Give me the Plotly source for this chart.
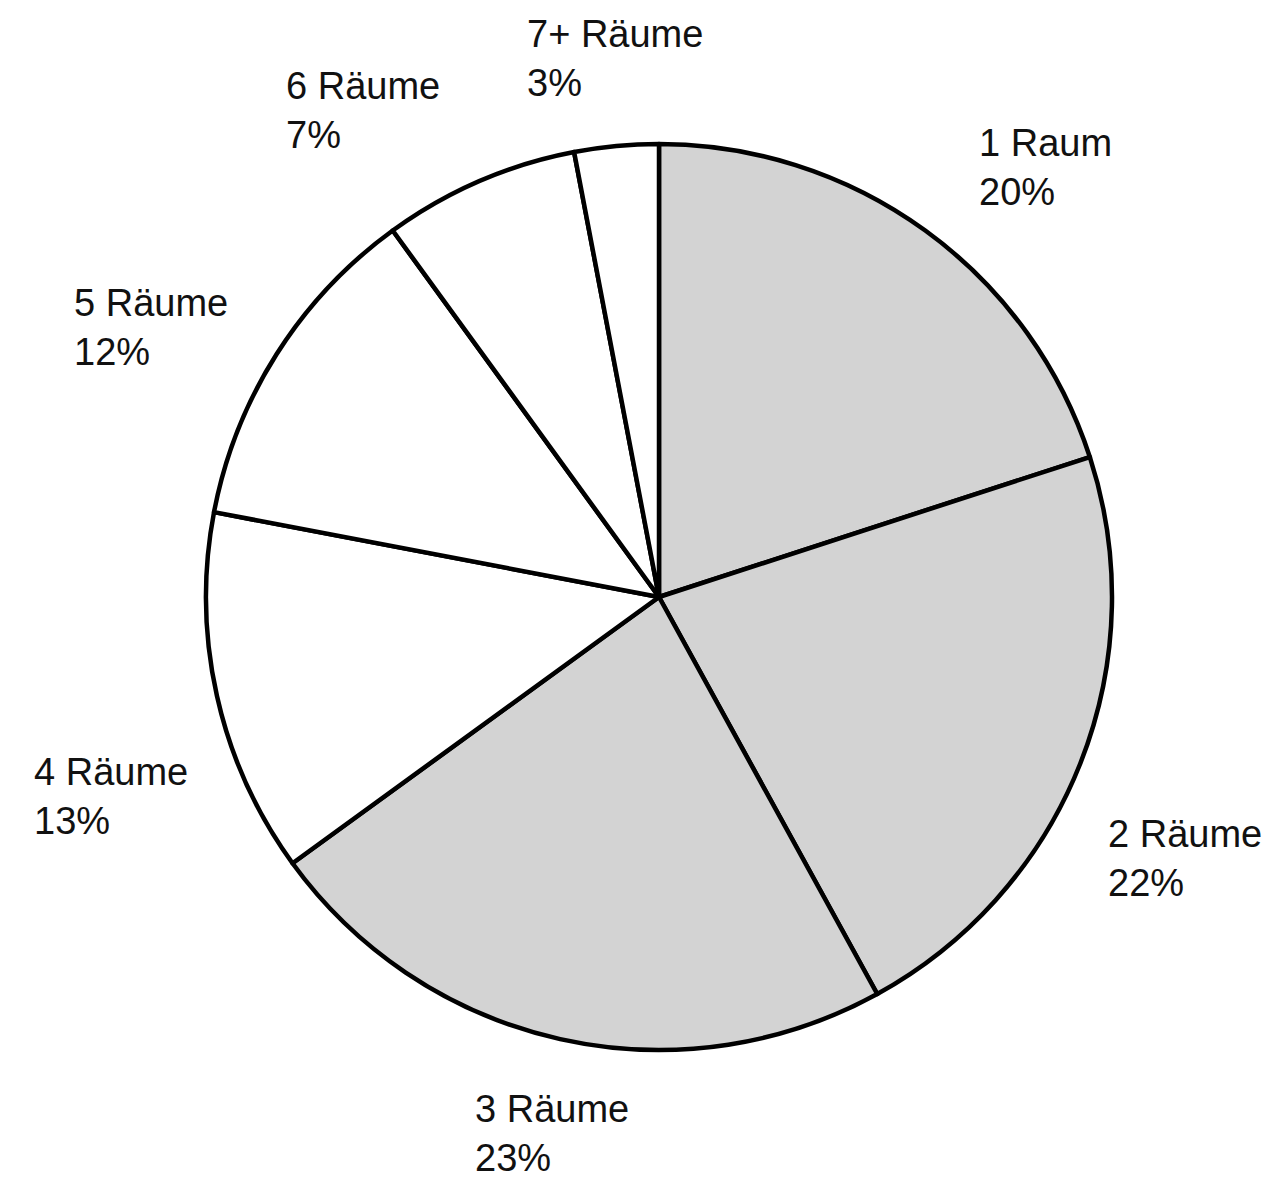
import math
import plotly.graph_objects as go

labels = ["1 Raum", "2 Räume", "3 Räume", "4 Räume", "5 Räume", "6 Räume", "7+ Räume"]
values = [20, 22, 23, 13, 12, 7, 3]
colors = ["#d3d3d3", "#d3d3d3", "#d3d3d3", "#ffffff", "#ffffff", "#ffffff", "#ffffff"]

W, H = 1281, 1181
# page body has an 8px margin, compensate
ml, mr, mt, mb = 198, 177, 136, 139

fig = go.Figure(go.Pie(
    labels=labels,
    values=values,
    sort=False,
    direction="clockwise",
    rotation=0,
    marker=dict(colors=colors, line=dict(color="black", width=4.5)),
    textinfo="none",
    hoverinfo="label+percent",
    showlegend=False,
))

# label placement: slice mid-angle plus a small nudge (degrees), distance in pie radii
angle_nudge = [6, 4.8, -1.3, -7.4, -4.4, -7.9, 0.7]
dist_factor = [1.276, 1.296, 1.208, 1.287, 1.269, 1.258, 1.192]

total = sum(values)
cum = 0
annotations = []
for i, (lab, v) in enumerate(zip(labels, values)):
    mid = (cum + v / 2) / total * 360 + angle_nudge[i]
    cum += v
    a = math.radians(mid)
    r = 0.5 * dist_factor[i]
    x = 0.5 + r * math.sin(a)
    y = 0.5 + r * math.cos(a)
    annotations.append(dict(
        x=x, y=y, xref="paper", yref="paper",
        text=f"{lab}<br>{round(v / total * 100)}%",
        showarrow=False, xanchor="center", yanchor="middle", align="left",
        font=dict(family="Liberation Sans, Arial, sans-serif", size=38, color="#111111"),
    ))

fig.update_layout(
    width=W, height=H,
    margin=dict(l=ml, r=mr, t=mt, b=mb),
    paper_bgcolor="white", plot_bgcolor="white",
    annotations=annotations,
)

fig.write_html("out.html")
